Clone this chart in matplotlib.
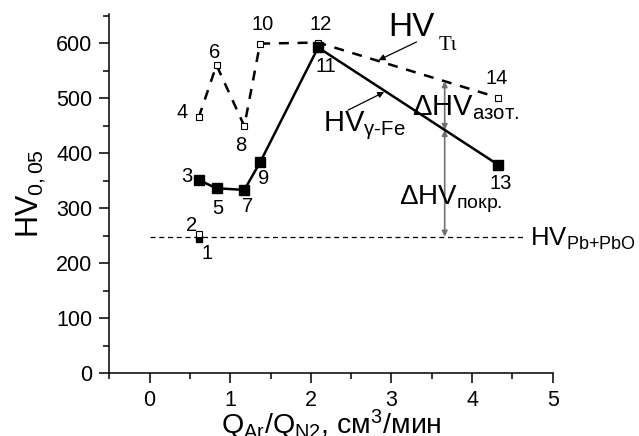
import numpy as np
import matplotlib.pyplot as plt
from matplotlib.ticker import MultipleLocator

plt.rcParams['font.family'] = ['Liberation Sans', 'DejaVu Sans']
plt.rcParams['mathtext.fontset'] = 'custom'
plt.rcParams['mathtext.rm'] = 'Liberation Sans'
plt.rcParams['mathtext.it'] = 'Liberation Sans:italic'

# HV_γ-Fe (filled squares), points 3..13
x_fe = [0.61, 0.83, 1.175, 1.37, 2.09, 4.32]
y_fe = [351, 336, 333, 383, 592, 379]

# HV_Ti (open squares), points 4..14
x_ti = [0.61, 0.83, 1.175, 1.37, 2.09, 4.32]
y_ti = [465, 560, 449, 599, 601, 501]

# substrate points 1 and 2
x_sub = [0.61, 0.61]
y_sub = [244, 253]

hv_pb = 248
x_delta = 3.66

# point numbers and where they are written
lab_txt = ["1", "2", "3", "4", "5", "6", "7", "8", "9", "10", "11", "12", "13", "14"]
lab_x = [0.71, 0.52, 0.46, 0.40, 0.84, 0.81, 1.22, 1.125, 1.41, 1.40, 2.19, 2.125, 4.36, 4.31]
lab_y = [218, 269, 358, 473, 300, 582, 302, 413, 353, 633, 558, 633, 345, 536]

fig = plt.figure(figsize=(6.39, 4.36), dpi=100)
ax = fig.add_axes([0.171, 0.1445, 0.694, 0.8235])

# horizontal dashed line HV_Pb+PbO
ax.plot([0, 4.66], [hv_pb, hv_pb], color="black", lw=0.9, ls=(0, (4, 3)))

ax.plot(x_ti, y_ti, color="black", lw=1.8, ls=(0, (4, 3.5)),
        marker="s", ms=5, mfc="white", mec="black", mew=0.8, zorder=3)
ax.plot(x_fe, y_fe, color="black", lw=1.8, marker="s", ms=6.5,
        mfc="black", mec="black", zorder=4)
ax.plot(x_sub[0], y_sub[0], ls="none", marker="s", ms=5, mfc="black", mec="black", zorder=4)
ax.plot(x_sub[1], y_sub[1], ls="none", marker="s", ms=5, mfc="white", mec="black",
        mew=0.8, zorder=5)

for t, xx, yy in zip(lab_txt, lab_x, lab_y):
    ax.text(xx, yy, t, fontsize=14.5, ha="center", va="center")

# delta arrows
y_fe_d = np.interp(x_delta, x_fe[-2:], y_fe[-2:])
y_ti_d = np.interp(x_delta, x_ti[-2:], y_ti[-2:])
gray = "#707070"
ax.annotate("", xy=(x_delta, hv_pb), xytext=(x_delta, y_fe_d),
            arrowprops=dict(arrowstyle="<|-|>", color=gray, lw=1.2,
                            mutation_scale=8, shrinkA=0, shrinkB=0))
ax.annotate("", xy=(x_delta, y_fe_d), xytext=(x_delta, y_ti_d),
            arrowprops=dict(arrowstyle="<|-|>", color=gray, lw=1.2,
                            mutation_scale=8, shrinkA=0, shrinkB=0))

# pointer arrows
ax.annotate("", xy=(2.84, 569), xytext=(3.31, 602),
            arrowprops=dict(arrowstyle="-|>", color="black", lw=0.9,
                            mutation_scale=9, shrinkA=0, shrinkB=0))
ax.annotate("", xy=(2.91, 511), xytext=(2.46, 478),
            arrowprops=dict(arrowstyle="-|>", color="black", lw=0.9,
                            mutation_scale=9, shrinkA=0, shrinkB=0))

ax.text(2.96, 628, "HV", fontsize=24, va="center", ha="left")
ax.text(3.59, 595, "Tι", fontsize=15, va="center", ha="left", family="Liberation Serif")
ax.text(2.15, 450, r"HV$_{\text{γ-Fe}}$", fontsize=21, va="center", ha="left")
ax.text(3.25, 482, r"ΔHV$_{\text{азот.}}$", fontsize=21, va="center", ha="left")
ax.text(3.09, 315, r"ΔHV$_{\text{покр.}}$", fontsize=20, va="center", ha="left")
ax.text(4.72, 243, r"HV$_{\text{Pb+PbO}}$", fontsize=18.5, va="center", ha="left",
        clip_on=False)

ax.set_xlim(-0.5, 5)
ax.set_ylim(0, 653)
ax.xaxis.set_major_locator(MultipleLocator(1))
ax.xaxis.set_minor_locator(MultipleLocator(0.5))
ax.yaxis.set_major_locator(MultipleLocator(100))
ax.yaxis.set_minor_locator(MultipleLocator(50))
ax.spines["top"].set_visible(False)
ax.spines["right"].set_visible(False)
ax.spines["left"].set_linewidth(1.1)
ax.spines["bottom"].set_linewidth(1.1)
ax.tick_params(which="major", direction="out", length=7, width=1.1, labelsize=15.5, pad=5)
ax.tick_params(which="minor", direction="out", length=4, width=1.1)

ax.set_xlabel(r"Q$_{\text{Ar}}$/Q$_{\text{N2}}$, см$^{3}$/мин", fontsize=20.5, labelpad=-2)
ax.set_ylabel(r"HV$_{0,05}$", fontsize=22, labelpad=6)

fig.savefig("out.png", dpi=100)
